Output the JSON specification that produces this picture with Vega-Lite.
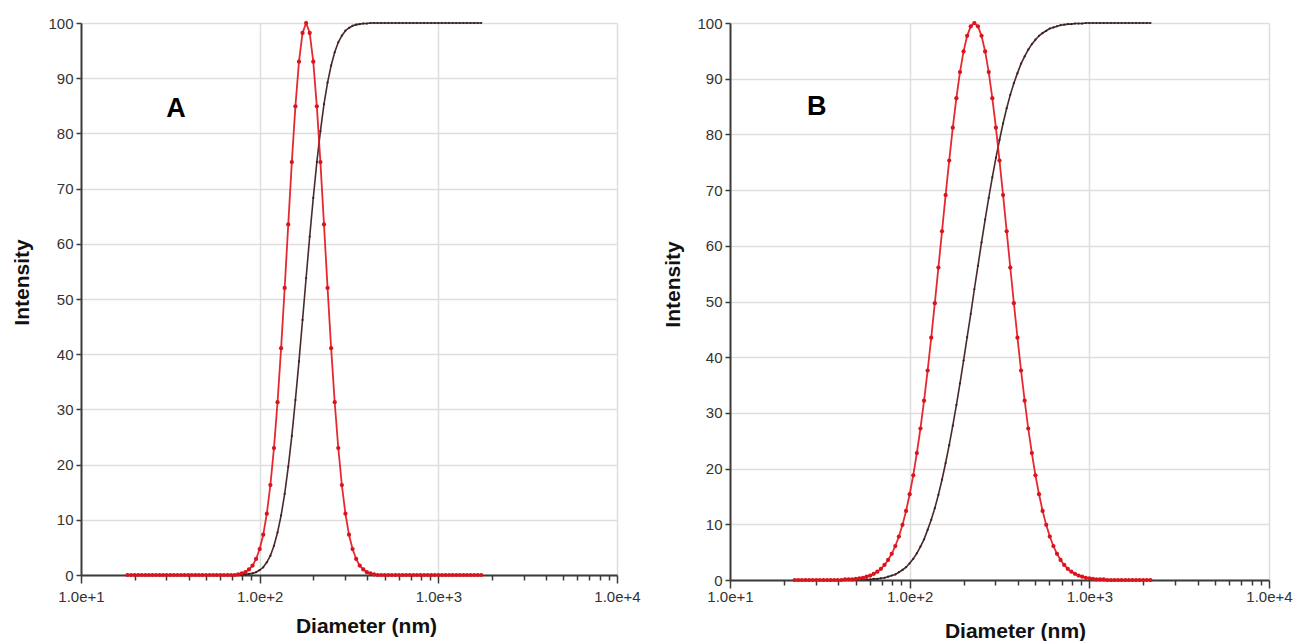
{
  "$schema": "https://vega.github.io/schema/vega-lite/v6.json",
  "padding": {"left": 11, "top": 16, "right": 0, "bottom": 0},
  "background": "white",
  "datasets": {
    "A": [
      {"d":18.197,"i":0,"c":0},{"d":19.055,"i":0,"c":0},{"d":19.953,"i":0,"c":0},{"d":20.893,"i":0,"c":0},{"d":21.878,"i":0,"c":0},
      {"d":22.909,"i":0,"c":0},{"d":23.988,"i":0,"c":0},{"d":25.119,"i":0,"c":0},{"d":26.303,"i":0,"c":0},{"d":27.542,"i":0,"c":0},
      {"d":28.840,"i":0,"c":0},{"d":30.200,"i":0,"c":0},{"d":31.623,"i":0,"c":0},{"d":33.113,"i":0,"c":0},{"d":34.674,"i":0,"c":0},
      {"d":36.308,"i":0,"c":0},{"d":38.019,"i":0,"c":0},{"d":39.811,"i":0,"c":0},{"d":41.687,"i":0,"c":0},{"d":43.652,"i":0,"c":0},
      {"d":45.709,"i":0,"c":0},{"d":47.863,"i":0,"c":0},{"d":50.119,"i":0,"c":0},{"d":52.481,"i":0,"c":0},{"d":54.954,"i":0,"c":0},
      {"d":57.544,"i":0,"c":0},{"d":60.256,"i":0,"c":0},{"d":63.096,"i":0,"c":0},{"d":66.069,"i":0,"c":0},{"d":69.183,"i":0,"c":0},
      {"d":72.444,"i":0,"c":0},{"d":75.858,"i":0.1,"c":0},{"d":79.433,"i":0.3,"c":0},{"d":83.176,"i":0.5,"c":0.1},{"d":87.096,"i":1.0,"c":0.2},
      {"d":91.201,"i":1.7,"c":0.3},{"d":95.499,"i":2.9,"c":0.5},{"d":100,"i":4.7,"c":0.9},{"d":104.71,"i":7.3,"c":1.4},{"d":109.65,"i":11.1,"c":2.3},
      {"d":114.82,"i":16.3,"c":3.5},{"d":120.23,"i":23.0,"c":5.3},{"d":125.89,"i":31.3,"c":7.7},{"d":131.83,"i":41.1,"c":10.8},{"d":138.04,"i":52.0,"c":14.7},
      {"d":144.54,"i":63.5,"c":19.6},{"d":151.36,"i":74.8,"c":25.2},{"d":158.49,"i":84.9,"c":31.7},{"d":165.96,"i":93.0,"c":38.7},{"d":173.78,"i":98.2,"c":46.2},
      {"d":181.97,"i":100,"c":53.8},{"d":190.55,"i":98.2,"c":61.3},{"d":199.53,"i":93.0,"c":68.3},{"d":208.93,"i":84.9,"c":74.8},{"d":218.78,"i":74.8,"c":80.4},
      {"d":229.09,"i":63.5,"c":85.3},{"d":239.88,"i":52.0,"c":89.2},{"d":251.19,"i":41.1,"c":92.3},{"d":263.03,"i":31.3,"c":94.7},{"d":275.42,"i":23.0,"c":96.5},
      {"d":288.40,"i":16.3,"c":97.7},{"d":302.00,"i":11.1,"c":98.6},{"d":316.23,"i":7.3,"c":99.1},{"d":331.13,"i":4.7,"c":99.5},{"d":346.74,"i":2.9,"c":99.7},
      {"d":363.08,"i":1.7,"c":99.8},{"d":380.19,"i":1.0,"c":99.9},{"d":398.11,"i":0.5,"c":99.9},{"d":416.87,"i":0.3,"c":100},{"d":436.52,"i":0.1,"c":100},
      {"d":457.09,"i":0,"c":100},{"d":478.63,"i":0,"c":100},{"d":501.19,"i":0,"c":100},{"d":524.81,"i":0,"c":100},{"d":549.54,"i":0,"c":100},
      {"d":575.44,"i":0,"c":100},{"d":602.56,"i":0,"c":100},{"d":630.96,"i":0,"c":100},{"d":660.69,"i":0,"c":100},{"d":691.83,"i":0,"c":100},
      {"d":724.44,"i":0,"c":100},{"d":758.58,"i":0,"c":100},{"d":794.33,"i":0,"c":100},{"d":831.76,"i":0,"c":100},{"d":870.96,"i":0,"c":100},
      {"d":912.01,"i":0,"c":100},{"d":954.99,"i":0,"c":100},{"d":1000,"i":0,"c":100},{"d":1047.1,"i":0,"c":100},{"d":1096.5,"i":0,"c":100},
      {"d":1148.2,"i":0,"c":100},{"d":1202.3,"i":0,"c":100},{"d":1258.9,"i":0,"c":100},{"d":1318.3,"i":0,"c":100},{"d":1380.4,"i":0,"c":100},
      {"d":1445.4,"i":0,"c":100},{"d":1513.6,"i":0,"c":100},{"d":1584.9,"i":0,"c":100},{"d":1659.6,"i":0,"c":100},{"d":1737.8,"i":0,"c":100}
    ],
    "B": [
      {"d":22.909,"i":0,"c":0},{"d":23.988,"i":0,"c":0},{"d":25.119,"i":0,"c":0},{"d":26.303,"i":0,"c":0},{"d":27.542,"i":0,"c":0},
      {"d":28.840,"i":0,"c":0},{"d":30.200,"i":0,"c":0},{"d":31.623,"i":0,"c":0},{"d":33.113,"i":0,"c":0},{"d":34.674,"i":0,"c":0},
      {"d":36.308,"i":0,"c":0},{"d":38.019,"i":0,"c":0},{"d":39.811,"i":0,"c":0},{"d":41.687,"i":0,"c":0},{"d":43.652,"i":0.1,"c":0},
      {"d":45.709,"i":0.1,"c":0},{"d":47.863,"i":0.1,"c":0},{"d":50.119,"i":0.2,"c":0},{"d":52.481,"i":0.3,"c":0},{"d":54.954,"i":0.4,"c":0.1},
      {"d":57.544,"i":0.6,"c":0.1},{"d":60.256,"i":0.8,"c":0.1},{"d":63.096,"i":1.1,"c":0.2},{"d":66.069,"i":1.5,"c":0.2},{"d":69.183,"i":2.0,"c":0.3},
      {"d":72.444,"i":2.7,"c":0.4},{"d":75.858,"i":3.6,"c":0.6},{"d":79.433,"i":4.7,"c":0.8},{"d":83.176,"i":6.1,"c":1.0},{"d":87.096,"i":7.8,"c":1.4},
      {"d":91.201,"i":9.9,"c":1.8},{"d":95.499,"i":12.4,"c":2.3},{"d":100,"i":15.4,"c":3.0},{"d":104.71,"i":18.8,"c":3.8},{"d":109.65,"i":22.8,"c":4.8},
      {"d":114.82,"i":27.2,"c":6.0},{"d":120.23,"i":32.2,"c":7.3},{"d":125.89,"i":37.6,"c":9.0},{"d":131.83,"i":43.5,"c":10.8},{"d":138.04,"i":49.7,"c":12.9},
      {"d":144.54,"i":56.1,"c":15.3},{"d":151.36,"i":62.6,"c":18.0},{"d":158.49,"i":69.1,"c":21.0},{"d":165.96,"i":75.3,"c":24.2},{"d":173.78,"i":81.2,"c":27.7},
      {"d":181.97,"i":86.5,"c":31.4},{"d":190.55,"i":91.2,"c":35.3},{"d":199.53,"i":94.9,"c":39.4},{"d":208.93,"i":97.7,"c":43.6},{"d":218.78,"i":99.4,"c":47.8},
      {"d":229.09,"i":100,"c":52.2},{"d":239.88,"i":99.4,"c":56.4},{"d":251.19,"i":97.7,"c":60.6},{"d":263.03,"i":94.9,"c":64.7},{"d":275.42,"i":91.2,"c":68.6},
      {"d":288.40,"i":86.5,"c":72.3},{"d":302.00,"i":81.2,"c":75.8},{"d":316.23,"i":75.3,"c":79.0},{"d":331.13,"i":69.1,"c":82.0},{"d":346.74,"i":62.6,"c":84.7},
      {"d":363.08,"i":56.1,"c":87.1},{"d":380.19,"i":49.7,"c":89.2},{"d":398.11,"i":43.5,"c":91.0},{"d":416.87,"i":37.6,"c":92.7},{"d":436.52,"i":32.2,"c":94.0},
      {"d":457.09,"i":27.2,"c":95.2},{"d":478.63,"i":22.8,"c":96.2},{"d":501.19,"i":18.8,"c":97.0},{"d":524.81,"i":15.4,"c":97.7},{"d":549.54,"i":12.4,"c":98.2},
      {"d":575.44,"i":9.9,"c":98.6},{"d":602.56,"i":7.8,"c":99.0},{"d":630.96,"i":6.1,"c":99.2},{"d":660.69,"i":4.7,"c":99.4},{"d":691.83,"i":3.6,"c":99.6},
      {"d":724.44,"i":2.7,"c":99.7},{"d":758.58,"i":2.0,"c":99.8},{"d":794.33,"i":1.5,"c":99.8},{"d":831.76,"i":1.1,"c":99.9},{"d":870.96,"i":0.8,"c":99.9},
      {"d":912.01,"i":0.6,"c":99.9},{"d":954.99,"i":0.4,"c":100},{"d":1000,"i":0.3,"c":100},{"d":1047.1,"i":0.2,"c":100},{"d":1096.5,"i":0.1,"c":100},
      {"d":1148.2,"i":0.1,"c":100},{"d":1202.3,"i":0.1,"c":100},{"d":1258.9,"i":0,"c":100},{"d":1318.3,"i":0,"c":100},{"d":1380.4,"i":0,"c":100},
      {"d":1445.4,"i":0,"c":100},{"d":1513.6,"i":0,"c":100},{"d":1584.9,"i":0,"c":100},{"d":1659.6,"i":0,"c":100},{"d":1737.8,"i":0,"c":100},
      {"d":1819.7,"i":0,"c":100},{"d":1905.5,"i":0,"c":100},{"d":1995.3,"i":0,"c":100},{"d":2089.3,"i":0,"c":100},{"d":2187.8,"i":0,"c":100}
    ]
  },
  "hconcat": [
    {
      "width": 536,
      "height": 552,
      "layer": [
        {
          "data": {"name": "A"},
          "mark": {"type": "line", "color": "#4a2a2a", "strokeWidth": 1.6, "point": {"filled": true, "size": 5, "color": "#3a2222"}},
          "encoding": {
            "x": {"field": "d", "type": "quantitative", "scale": {"type": "log", "domain": [10, 10000], "nice": false},
              "axis": {"title": "Diameter (nm)", "values": [10,20,30,40,50,60,70,80,90,100,200,300,400,500,600,700,800,900,1000,2000,3000,4000,5000,6000,7000,8000,9000,10000],
                "labelExpr": "indexof([10,100,1000,10000], datum.value) >= 0 ? format(datum.value, '.1e') : ''",
                "tickSize": {"condition": {"test": "indexof([10,100,1000,10000], datum.value) >= 0", "value": 8}, "value": 5},
                "gridOpacity": {"condition": {"test": "indexof([100,1000,10000], datum.value) >= 0", "value": 1}, "value": 0},
                "labelPadding": 6, "titlePadding": 11, "titleX": 285}},
            "y": {"field": "c", "type": "quantitative", "scale": {"domain": [0, 100], "nice": false},
              "axis": {"title": "Intensity", "values": [0,10,20,30,40,50,60,70,80,90,100], "titlePadding": 15, "titleY": 259}}
          }
        },
        {
          "data": {"name": "A"},
          "mark": {"type": "line", "color": "#e3121b", "strokeWidth": 1.8, "opacity": 0.9, "point": {"filled": true, "size": 18, "color": "#d9141c"}},
          "encoding": {
            "x": {"field": "d", "type": "quantitative"},
            "y": {"field": "i", "type": "quantitative"}
          }
        },
        {
          "data": {"values": [{"x": 34, "y": 84.5, "t": "A"}]},
          "mark": {"type": "text", "font": "Liberation Sans", "fontWeight": "bold", "fontSize": 27, "color": "black", "align": "center", "baseline": "middle"},
          "encoding": {
            "x": {"field": "x", "type": "quantitative"},
            "y": {"field": "y", "type": "quantitative"},
            "text": {"field": "t"}
          }
        }
      ]
    },
    {
      "width": 539,
      "height": 557,
      "layer": [
        {
          "data": {"name": "B"},
          "mark": {"type": "line", "color": "#4a2a2a", "strokeWidth": 1.6, "point": {"filled": true, "size": 5, "color": "#3a2222"}},
          "encoding": {
            "x": {"field": "d", "type": "quantitative", "scale": {"type": "log", "domain": [10, 10000], "nice": false},
              "axis": {"title": "Diameter (nm)", "values": [10,20,30,40,50,60,70,80,90,100,200,300,400,500,600,700,800,900,1000,2000,3000,4000,5000,6000,7000,8000,9000,10000],
                "labelExpr": "indexof([10,100,1000,10000], datum.value) >= 0 ? format(datum.value, '.1e') : ''",
                "tickSize": {"condition": {"test": "indexof([10,100,1000,10000], datum.value) >= 0", "value": 8}, "value": 5},
                "gridOpacity": {"condition": {"test": "indexof([100,1000,10000], datum.value) >= 0", "value": 1}, "value": 0},
                "labelPadding": 1, "titlePadding": 16, "titleX": 285}},
            "y": {"field": "c", "type": "quantitative", "scale": {"domain": [0, 100], "nice": false},
              "axis": {"title": "Intensity", "values": [0,10,20,30,40,50,60,70,80,90,100], "titlePadding": 13, "titleY": 261}}
          }
        },
        {
          "data": {"name": "B"},
          "mark": {"type": "line", "color": "#e3121b", "strokeWidth": 1.8, "opacity": 0.9, "point": {"filled": true, "size": 18, "color": "#d9141c"}},
          "encoding": {
            "x": {"field": "d", "type": "quantitative"},
            "y": {"field": "i", "type": "quantitative"}
          }
        },
        {
          "data": {"values": [{"x": 30.4, "y": 85, "t": "B"}]},
          "mark": {"type": "text", "font": "Liberation Sans", "fontWeight": "bold", "fontSize": 27, "color": "black", "align": "center", "baseline": "middle"},
          "encoding": {
            "x": {"field": "x", "type": "quantitative"},
            "y": {"field": "y", "type": "quantitative"},
            "text": {"field": "t"}
          }
        }
      ]
    }
  ],
  "spacing": 21,
  "config": {
    "view": {"stroke": null},
    "axis": {
      "domainColor": "#3a3a3a", "domainWidth": 2,
      "tickColor": "#3a3a3a", "tickWidth": 1.5, "tickSize": 5,
      "gridColor": "#dedede", "gridWidth": 1.5,
      "labelColor": "#333333", "labelFont": "Liberation Sans", "labelFontSize": 15, "labelPadding": 3,
      "labelOverlap": false, "labelFlush": false,
      "titleFont": "Liberation Sans", "titleFontSize": 21, "titleFontWeight": "bold", "titleColor": "#111111"
    }
  }
}
